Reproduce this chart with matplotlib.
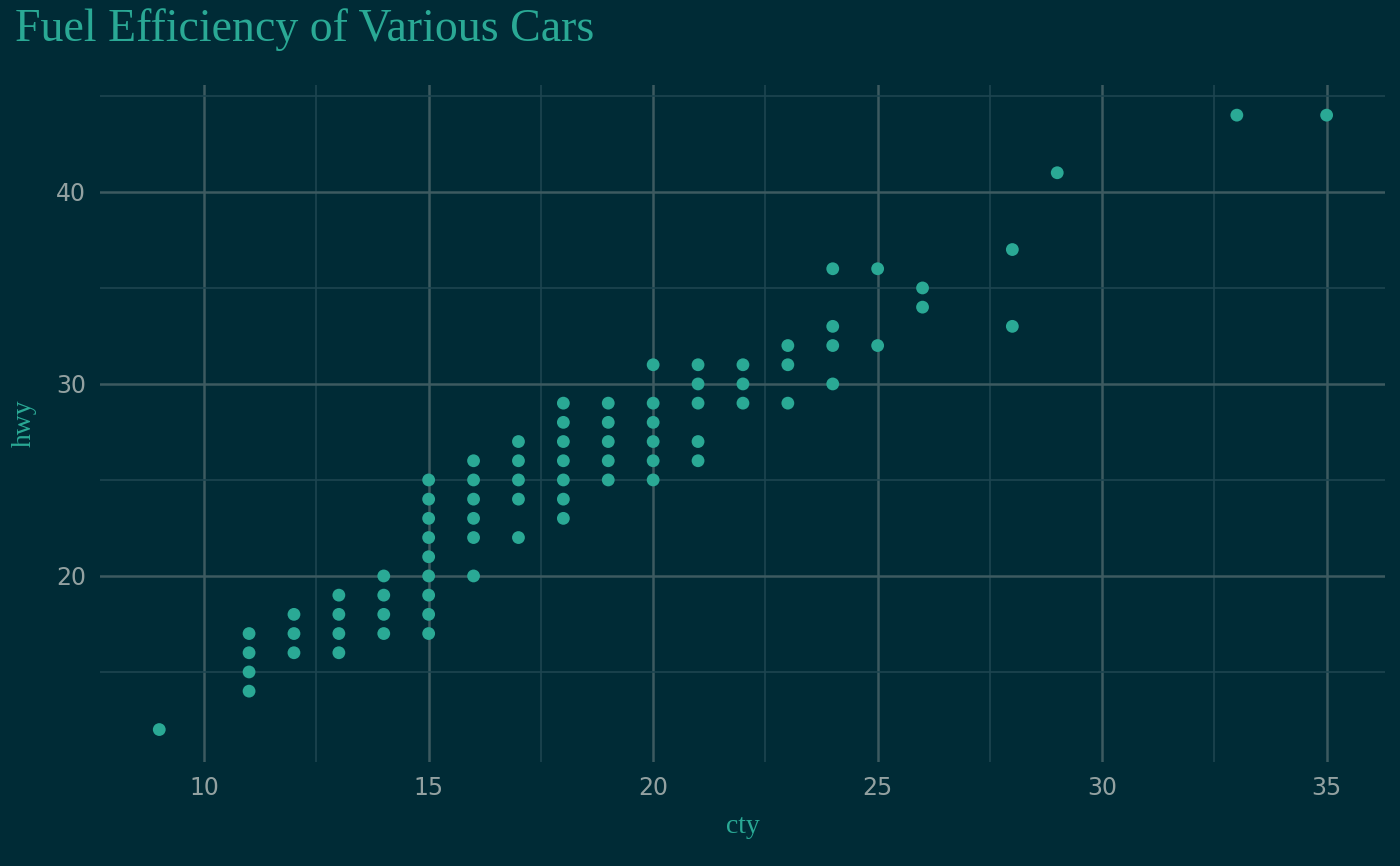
import matplotlib
matplotlib.use("Agg")
import matplotlib.pyplot as plt
from matplotlib.ticker import MultipleLocator

# city / highway mpg pairs
cty = [9, 11, 11, 11, 11, 12, 12, 12, 13, 13, 13, 13, 14, 14, 14, 14,
       15, 15, 15, 15, 15, 15, 15, 15, 15,
       16, 16, 16, 16, 16, 16, 17, 17, 17, 17, 17,
       18, 18, 18, 18, 18, 18, 18, 19, 19, 19, 19, 19,
       20, 20, 20, 20, 20, 20, 21, 21, 21, 21, 21,
       22, 22, 22, 23, 23, 23, 24, 24, 24, 24, 25, 25, 26, 26,
       28, 28, 29, 33, 35]
hwy = [12, 14, 15, 16, 17, 16, 17, 18, 16, 17, 18, 19, 17, 18, 19, 20,
       17, 18, 19, 20, 21, 22, 23, 24, 25,
       20, 22, 23, 24, 25, 26, 22, 24, 25, 26, 27,
       23, 24, 25, 26, 27, 28, 29, 25, 26, 27, 28, 29,
       25, 26, 27, 28, 29, 31, 26, 27, 29, 30, 31,
       29, 30, 31, 29, 31, 32, 30, 32, 33, 36, 32, 36, 34, 35,
       33, 37, 41, 44, 44]

bg = "#002b36"
teal = "#2aa995"
grey = "#93a1a1"

fig = plt.figure(figsize=(14, 8.66), dpi=100, facecolor=bg)
ax = fig.add_axes([100 / 1400, 1 - 762 / 866, 1285 / 1400, 677 / 866])
ax.set_facecolor(bg)

ax.scatter(cty, hwy, s=85, color=teal, edgecolors="none", zorder=3)

ax.set_xlim(7.68, 36.3)
ax.set_ylim(10.31, 45.57)
ax.xaxis.set_major_locator(MultipleLocator(5))
ax.yaxis.set_major_locator(MultipleLocator(10))
ax.xaxis.set_minor_locator(MultipleLocator(2.5))
ax.yaxis.set_minor_locator(MultipleLocator(5))
ax.grid(which="major", color="#3d5a60", linewidth=1.8)
ax.grid(which="minor", color="#1d4550", linewidth=1.2)
ax.set_axisbelow(True)
for s in ax.spines.values():
    s.set_visible(False)
ax.tick_params(which="both", length=0, colors=grey, labelsize=17, pad=10)

ax.set_xlabel("cty", family="Liberation Serif", fontsize=20, color=teal, labelpad=10)
ax.set_ylabel("hwy", family="Liberation Serif", fontsize=20, color=teal, labelpad=14)
fig.text(15 / 1400, 1 - 30 / 866, "Fuel Efficiency of Various Cars",
         family="Liberation Serif", fontsize=33, color=teal, va="center")

plt.savefig("out.png", dpi=100, facecolor=bg)
